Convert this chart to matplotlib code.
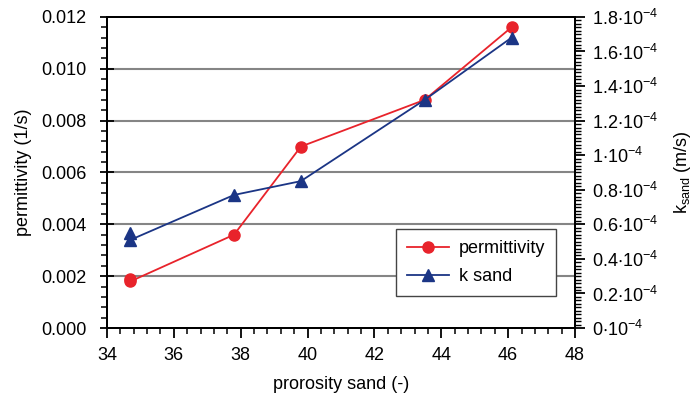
import matplotlib
matplotlib.use("Agg")
import matplotlib.pyplot as plt
from matplotlib.ticker import MultipleLocator

plt.rcParams['font.family'] = ['Liberation Sans', 'DejaVu Sans']
plt.rcParams['mathtext.fontset'] = 'custom'
plt.rcParams['mathtext.rm'] = 'Liberation Sans'
plt.rcParams['mathtext.it'] = 'Liberation Sans'
plt.rcParams['mathtext.default'] = 'regular'

# data
porosity = [34.7, 34.7, 37.8, 39.8, 43.5, 46.1]
permittivity = [0.0019, 0.0018, 0.0036, 0.0070, 0.0088, 0.0116]
k_sand = [0.55e-4, 0.51e-4, 0.77e-4, 0.85e-4, 1.32e-4, 1.68e-4]

left_ticks = [0.000, 0.002, 0.004, 0.006, 0.008, 0.010, 0.012]
left_labels = ['0.000', '0.002', '0.004', '0.006', '0.008', '0.010', '0.012']
right_ticks = [0.0, 0.2e-4, 0.4e-4, 0.6e-4, 0.8e-4, 1.0e-4, 1.2e-4, 1.4e-4, 1.6e-4, 1.8e-4]
right_mantissa = ['0', '0.2', '0.4', '0.6', '0.8', '1', '1.2', '1.4', '1.6', '1.8']
x_ticks = [34, 36, 38, 40, 42, 44, 46, 48]

red = '#e8232b'
blue = '#1b3585'
fs = 13

fig = plt.figure(figsize=(6.97, 4.03), dpi=100)
ax = fig.add_axes([0.1535, 0.186, 0.6715, 0.772])
ax2 = ax.twinx()

for y in left_ticks[1:-1]:
    ax.axhline(y, color='#858585', lw=1.5, zorder=0)

l1, = ax.plot(porosity, permittivity, color=red, marker='o', ms=8, lw=1.3,
              label='permittivity', zorder=3)
l2, = ax2.plot(porosity, k_sand, color=blue, marker='^', ms=8, lw=1.3,
               label='k sand', zorder=3)

ax.set_xlim(34, 48)
ax.set_ylim(0, 0.012)
ax2.set_ylim(0, 1.8e-4)

ax.set_xticks(x_ticks)
ax.set_xticklabels([str(t) for t in x_ticks], fontsize=fs)
ax.xaxis.set_minor_locator(MultipleLocator(0.4))
ax.set_yticks(left_ticks)
ax.set_yticklabels(left_labels, fontsize=fs)
ax.yaxis.set_minor_locator(MultipleLocator(0.0004))
ax2.set_yticks(right_ticks)
ax2.set_yticklabels([r'$%s{\cdot}10^{-4}$' % m for m in right_mantissa], fontsize=fs)
ax2.yaxis.set_minor_locator(MultipleLocator(0.02e-4))

ax.tick_params(axis='x', which='major', direction='out', length=7, width=1.3, pad=7)
ax.tick_params(axis='x', which='minor', direction='out', length=4, width=1.1)
ax.tick_params(axis='y', which='major', direction='inout', length=10, width=1.3, pad=10)
ax.tick_params(axis='y', which='minor', direction='out', length=4, width=1.1)
ax2.tick_params(axis='y', which='major', direction='out', length=7, width=1.3, pad=5)
ax2.tick_params(axis='y', which='minor', direction='out', length=4, width=1.0)

for a in (ax, ax2):
    for s in a.spines.values():
        s.set_linewidth(1.4)

ax.set_xlabel('prorosity sand (-)', fontsize=fs, labelpad=8)
ax.set_ylabel('permittivity (1/s)', fontsize=fs, labelpad=6)
ax2.set_ylabel(r'k$_{sand}$ (m/s)', fontsize=fs, labelpad=10)

leg = ax2.legend(handles=[l1, l2], loc='lower right', bbox_to_anchor=(0.959, 0.103),
                 borderaxespad=0,
                 fontsize=fs, fancybox=False, edgecolor='#444444', framealpha=1,
                 handlelength=2.3, borderpad=0.6, labelspacing=0.6, handletextpad=0.55)
leg.get_frame().set_linewidth(1.0)

fig.savefig('out.png', dpi=100)
